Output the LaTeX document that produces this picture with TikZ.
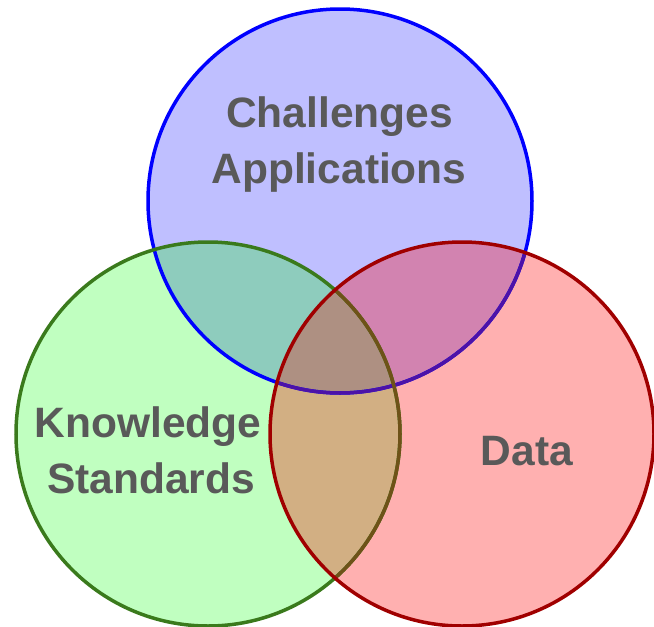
\documentclass[tikz,border=0pt]{standalone}
\usepackage{fontspec}
\setmainfont{Liberation Sans}
% region fills
\definecolor{fillB}{HTML}{BFBFFF}
\definecolor{fillG}{HTML}{C0FFC0}
\definecolor{fillR}{HTML}{FFB0B0}
\definecolor{fillBG}{HTML}{8ECCBD}
\definecolor{fillBR}{HTML}{D283B0}
\definecolor{fillGR}{HTML}{D2AF83}
\definecolor{fillBGR}{HTML}{AE9082}
% outlines
\definecolor{lineB}{HTML}{0000FF}
\definecolor{lineG}{HTML}{3A7A1C}
\definecolor{lineR}{HTML}{A00000}
\definecolor{lineBinR}{HTML}{4C12A8}
\definecolor{lineGinR}{HTML}{6E5218}
\definecolor{labelgray}{HTML}{595959}
\begin{document}
\begin{tikzpicture}[x=1pt,y=-1pt,
  lbl/.style={font=\bfseries\fontsize{42.5}{42.5}\selectfont, text=labelgray,
              anchor=base, inner sep=0pt},
  rim/.style={line width=3.5pt}]
\useasboundingbox (0,0) rectangle (654,627);
\def\R{192}
\coordinate (cb) at (340,201);
\coordinate (cg) at (208,434);
\coordinate (cr) at (462,434);

% single-set areas
\fill[fillG] (cg) circle[radius=\R];
\fill[fillB] (cb) circle[radius=\R];
\fill[fillR] (cr) circle[radius=\R];
% pairwise overlaps
\begin{scope}
  \clip (cb) circle[radius=\R];
  \fill[fillBG] (cg) circle[radius=\R];
  \fill[fillBR] (cr) circle[radius=\R];
\end{scope}
\begin{scope}
  \clip (cg) circle[radius=\R];
  \fill[fillGR] (cr) circle[radius=\R];
\end{scope}
% triple overlap
\begin{scope}
  \clip (cb) circle[radius=\R];
  \clip (cg) circle[radius=\R];
  \fill[fillBGR] (cr) circle[radius=\R];
\end{scope}

% outlines
\draw[rim, lineB] (cb) circle[radius=\R];
\draw[rim, lineG] (cg) circle[radius=\R];
\begin{scope}
  \clip (cr) circle[radius=\R];
  \draw[rim, lineBinR] (cb) circle[radius=\R];
  \draw[rim, lineGinR] (cg) circle[radius=\R];
\end{scope}
\draw[rim, lineR] (cr) circle[radius=\R];

% labels
\node[lbl] (challenges) at (339.5,127) {Challenges};
\node[lbl] (applications) at (339,183) {Applications};
\node[lbl] (knowledge) at (148,437) {Knowledge};
\node[lbl] (standards) at (151,493) {Standards};
\node[lbl] (data) at (527,465) {Data};
\end{tikzpicture}
\end{document}
